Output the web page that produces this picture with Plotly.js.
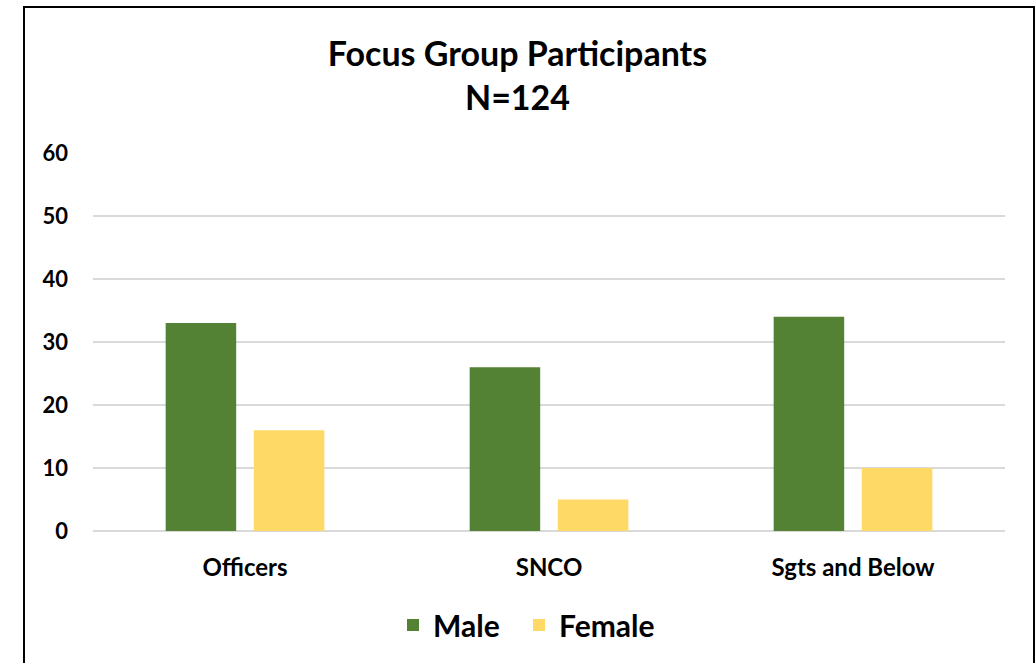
<!DOCTYPE html>
<html>
<head>
<meta charset="utf-8">
<script src="https://cdn.plot.ly/plotly-3.0.1.min.js"></script>
<style>
html,body{margin:0;padding:0;background:#fff;}
#chart{width:1035px;height:663px;}
</style>
</head>
<body>
<div id="chart"></div>
<script>
const categories = ["Officers", "SNCO", "Sgts and Below"];
const maleValues = [33, 26, 34];
const femaleValues = [16, 5, 10];
const seriesNames = ["Male", "Female"];
const titleLines = ["Focus Group Participants", "N=124"];
const yTicks = [0, 10, 20, 30, 40, 50, 60];

const FONT = "Lato, 'Open Sans', sans-serif";
const W = 1035, H = 663;
const L = 93, R = 30, T = 153, B = 132;
const pw = W - L - R, ph = H - T - B;

const traces = [
  {type: "bar", name: seriesNames[0], x: categories, y: maleValues,
   marker: {color: "#548235"}, hoverinfo: "x+y+name", legend: "legend"},
  {type: "bar", name: seriesNames[1], x: categories, y: femaleValues,
   marker: {color: "#FFD966"}, hoverinfo: "x+y+name", legend: "legend2"}
];

const legendFont = {family: FONT, size: 30, weight: "bold", color: "#000"};
const legendY = -(625 - (T + ph)) / ph;

const layout = {
  width: W, height: H,
  margin: {l: L, r: R, t: T, b: B, pad: 0},
  paper_bgcolor: "#fff", plot_bgcolor: "#fff",
  font: {family: FONT, color: "#000"},
  title: {
    text: titleLines.join("<br>"),
    font: {family: FONT, size: 34, weight: "bold", color: "#000"},
    x: 0.5, xanchor: "center", xref: "container",
    y: 1 - 66 / H, yanchor: "top", yref: "container"
  },
  barmode: "group",
  bargap: 0.42,
  bargroupgap: 0.2,
  xaxis: {
    type: "category",
    showgrid: false, zeroline: false, showline: false, ticks: "",
    tickfont: {family: FONT, size: 24, weight: "bold", color: "#000"},
    ticklabelstandoff: 20
  },
  yaxis: {
    range: [0, 60], tickvals: yTicks, ticktext: yTicks.map(String),
    showgrid: true, gridcolor: "#d9d9d9", gridwidth: 1.5,
    zeroline: true, zerolinecolor: "#d9d9d9", zerolinewidth: 1.5,
    showline: false, ticks: "",
    tickfont: {family: FONT, size: 22, weight: "bold", color: "#000"},
    ticklabelstandoff: 24
  },
  showlegend: true,
  legend: {
    orientation: "h", x: (393 - L) / pw, xanchor: "left",
    y: legendY, yanchor: "middle", font: legendFont, itemwidth: 30
  },
  legend2: {
    orientation: "h", x: (519 - L) / pw, xanchor: "left",
    y: legendY, yanchor: "middle", font: legendFont, itemwidth: 30
  },
  shapes: [{
    type: "rect", xref: "paper", yref: "paper",
    x0: (24 - L) / pw, x1: (1034 - L) / pw,
    y0: -(680 - (T + ph)) / ph, y1: 1 + (T - 7) / ph,
    line: {color: "#000", width: 2}, fillcolor: "rgba(0,0,0,0)", layer: "above"
  }]
};

Plotly.newPlot("chart", traces, layout, {displayModeBar: false, staticPlot: true});
</script>
</body>
</html>
